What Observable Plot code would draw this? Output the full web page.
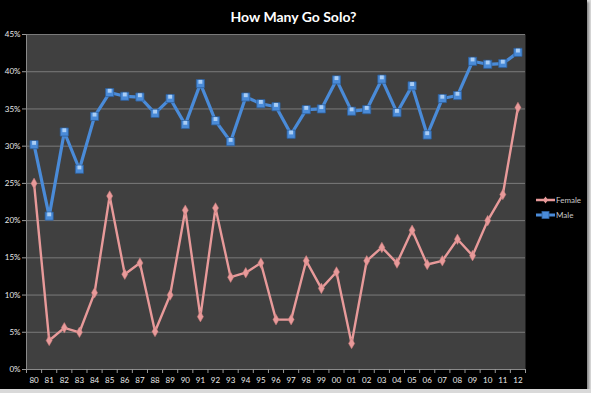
<!DOCTYPE html>
<html>
<head>
<meta charset="utf-8">
<script src="https://cdn.jsdelivr.net/npm/d3@7"></script>
<script src="https://cdn.jsdelivr.net/npm/@observablehq/plot@0.6"></script>
<style>
  html, body { margin: 0; padding: 0; background: #d9d9d9; }
  #wrap { position: relative; width: 587px; height: 389px; background: #000; box-shadow: 2px 2px 2px #8a8a8a; font-family: Lato, "Open Sans", sans-serif; }
  #title { height: 26px; line-height: 34px; text-align: center; color: #fff; font-weight: bold; font-size: 14px; }
  #legend { position: absolute; left: 536px; top: 193px; font-size: 8px; color: #c8c8c8; }
  .item { display: flex; align-items: center; height: 14.5px; }
  .item svg { margin-right: 1px; }
</style>
</head>
<body>
<div id="wrap">
  <div id="title">How Many Go Solo?</div>
  <div id="chart"></div>
  <div id="legend"></div>
</div>
<script>
const years = ["80","81","82","83","84","85","86","87","88","89","90","91","92","93","94","95","96","97","98","99","00","01","02","03","04","05","06","07","08","09","10","11","12"];
const female = [25.0,3.9,5.6,5.0,10.3,23.3,12.8,14.3,5.1,10.0,21.4,7.1,21.7,12.4,13.0,14.3,6.7,6.7,14.6,10.9,13.1,3.5,14.6,16.4,14.3,18.7,14.1,14.6,17.5,15.3,20.0,23.5,35.2];
const male = [30.2,20.6,31.9,26.9,34.0,37.2,36.7,36.6,34.4,36.4,32.9,38.4,33.4,30.6,36.6,35.7,35.3,31.6,34.9,35.0,38.9,34.7,34.9,39.0,34.5,38.1,31.5,36.4,36.8,41.4,41.0,41.1,42.6];
const yTicks = [0,5,10,15,20,25,30,35,40,45];
const seriesNames = ["Female","Male"];
const colors = {Female: "#e89a9a", Male: "#4a8bd8"};

const rows = [];
years.forEach((y, i) => {
  rows.push({i, year: y, series: "Female", v: female[i]});
  rows.push({i, year: y, series: "Male", v: male[i]});
});
const fRows = rows.filter(d => d.series === "Female");
const mRows = rows.filter(d => d.series === "Male");
const boundaries = d3.range(years.length + 1).map(k => k - 0.5);

const chart = Plot.plot({
  width: 587,
  height: 363,
  marginTop: 8,
  marginBottom: 20,
  marginLeft: 26,
  marginRight: 62,
  style: {background: "transparent", color: "#e8e8e8", fontFamily: "Lato, 'Open Sans', sans-serif", fontSize: "8px"},
  x: {type: "linear", domain: [-0.5, years.length - 0.5]},
  y: {domain: [0, 45]},
  marks: [
    Plot.frame({fill: "#404040", stroke: null}),
    Plot.gridY(yTicks.filter(t => t > 0), {stroke: "#7a7a7a", strokeOpacity: 1, strokeWidth: 1}),
    Plot.ruleY([0], {stroke: "#8a8a8a"}),
    Plot.ruleX([-0.5], {stroke: "#8a8a8a"}),
    Plot.axisY({ticks: yTicks, tickFormat: d => d + "%", tickSize: 4, tickPadding: 2, stroke: "#9a9a9a", label: null, fill: "#e8e8e8"}),
    Plot.axisX({ticks: d3.range(years.length), tickFormat: i => years[i], tickSize: 0, tickPadding: 8, label: null, fill: "#e8e8e8"}),
    Plot.axisX({ticks: boundaries, tickFormat: () => "", tickSize: 4, stroke: "#9a9a9a", label: null}),
    Plot.line(mRows, {x: "i", y: "v", stroke: colors.Male, strokeWidth: 3.2}),
    Plot.dot(mRows, {x: "i", y: "v", symbol: "square", r: 4.6, fill: colors.Male, stroke: "#2d5f9c", strokeWidth: 0.8}),
    Plot.dot(mRows, {x: "i", y: "v", symbol: "square", r: 2.2, fill: "#a9cdf5", dy: -1.8, stroke: null}),
    Plot.line(fRows, {x: "i", y: "v", stroke: colors.Female, strokeWidth: 2.4}),
    Plot.dot(fRows, {x: "i", y: "v", symbol: "diamond", r: 3.2, fill: colors.Female, stroke: "#c97b7b", strokeWidth: 0.5})
  ]
});
document.getElementById("chart").appendChild(chart);

const legend = document.getElementById("legend");
seriesNames.forEach(name => {
  const item = document.createElement("div");
  item.className = "item";
  const marker = name === "Male"
    ? `<rect x="6" y="1.5" width="7" height="7" fill="${colors.Male}" stroke="#2d5f9c" stroke-width="0.8"/>`
    : `<path d="M9.5,1.5 L12,5 L9.5,8.5 L7,5 Z" fill="${colors.Female}"/>`;
  item.innerHTML = `<svg width="19" height="10"><line x1="0" x2="19" y1="5" y2="5" stroke="${colors[name]}" stroke-width="${name === "Male" ? 3 : 2.5}"/>${marker}</svg><span>${name}</span>`;
  legend.appendChild(item);
});
</script>
</body>
</html>
